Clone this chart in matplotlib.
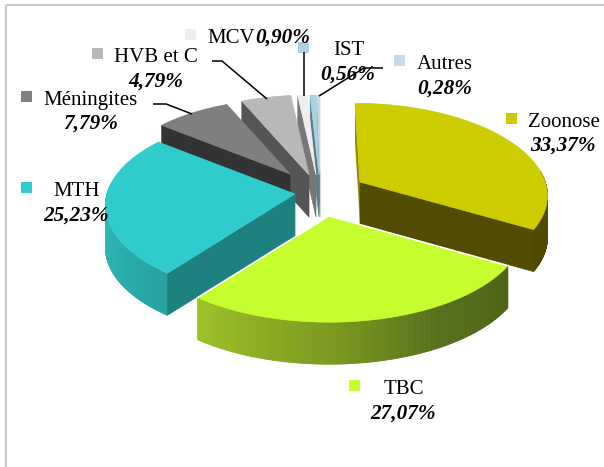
import numpy as np
import matplotlib
matplotlib.use("Agg")
import matplotlib.pyplot as plt
from matplotlib.colors import to_rgb
from matplotlib.patches import Polygon, Rectangle

# ---- data -------------------------------------------------------------
categories = ["Zoonose", "TBC", "MTH", "Méningites", "HVB et C", "MCV", "IST", "Autres"]
percent_values = [33.37, 27.07, 25.23, 7.79, 4.79, 0.90, 0.56, 0.28]
percent_labels = ["33,37%", "27,07%", "25,23%", "7,79%", "4,79%", "0,90%", "0,56%", "0,28%"]

# ---- style ------------------------------------------------------------
top_colors = ["#cccc00", "#c6fd2e", "#30cccc", "#7f7f7f", "#b8b8b8", "#eeeeee", "#a9d2e0", "#c3dde5"]
face_colors = ["#524c00", "#536a15", "#1f8080", "#333333", "#555555", "#777777", "#5a7f8a", "#6d8d96"]
marker_colors = ["#cccc00", "#c6fd2e", "#30cccc", "#7f7f7f", "#b8b8b8", "#eeeeee", "#a9d2e0", "#c3dde5"]
side_stops = {
    "Zoonose": [(90, "#4f4a00"), (125, "#4f4a00")],
    "TBC": [(120, "#4f6415"), (150, "#55701a"), (180, "#7d9a1f"), (218, "#9dc227")],
    "MTH": [(217, "#25a0a0"), (245, "#2cb0b0"), (275, "#2fb8b8")],
}
tips = [(360, 182), (329, 216), (295, 194), (290, 174), (309, 175), (316, 175), (319, 175), (320, 175)]
skews = [5, 0, 0, 0, 0, 0, 0, 0]
radius_scales = [0.985, 1.03, 1.0, 0.94, 1.0, 1.0, 1.0, 1.0]
A, B, PERSP, DEPTH = 188, 90, 0.127, 42

marker_boxes = [(506, 113), (349, 380), (21, 182), (21, 91), (92, 48), (185, 29), (298, 42), (394, 55)]
name_pos = [(528, 127), (384, 394), (53, 196), (43, 105), (114, 62), (207, 43), (333, 55), (417, 69)]
pct_pos = [(530, 151), (370, 419), (43, 221), (63, 129), (128, 87), (255, 43), (320, 80), (417, 94)]
leaders = [
    ([153, 166, 192], [104, 104, 114]),
    ([212, 222, 267], [61, 61, 99]),
    ([304, 304], [52, 96]),
    ([319, 364, 383], [96, 68, 68]),
]

SERIF = "Liberation Serif"
NAME_SIZE, PCT_SIZE = 15, 15.3

fig = plt.figure(figsize=(6.04, 4.67), dpi=100, facecolor="white")
ax = fig.add_axes([0, 0, 1, 1])
ax.set_xlim(0, 604)
ax.set_ylim(467, 0)
ax.axis("off")

# frame (left and top only are visible in the crop)
ax.add_patch(Rectangle((6, 5), 700, 600, fill=False, ec="#c8c8c8", lw=1.5, zorder=0))


def project(theta_deg, tip, skew, scale):
    t = np.radians(theta_deg)
    X, Y = np.sin(t), -np.cos(t)
    s = scale / (1 - PERSP * Y)
    return tip[0] + A * X * s + skew * Y, tip[1] + B * Y * s


def grad_color(theta, stops):
    angs = [p[0] for p in stops]
    rgb = np.array([to_rgb(p[1]) for p in stops])
    return tuple(np.interp(theta, angs, rgb[:, i]) for i in range(3))


edges = np.concatenate([[0], np.cumsum(percent_values)]) / sum(percent_values) * 360
order = [7, 6, 5, 4, 3, 0, 2, 1]  # back to front

for z, i in enumerate(order):
    name = categories[i]
    a0, a1 = edges[i], edges[i + 1]
    tip = tips[i]
    th = np.linspace(a0, a1, max(int(a1 - a0) * 2, 4))
    px, py = project(th, tip, skews[i], radius_scales[i])

    group = []
    # outer rim
    if name in side_stops:
        for j in range(len(th) - 1):
            mid = (th[j] + th[j + 1]) / 2
            if np.cos(np.radians(mid)) < 0.12:
                c = grad_color(mid, side_stops[name])
                group.append(Polygon(
                    [(px[j], py[j]), (px[j + 1], py[j + 1]),
                     (px[j + 1], py[j + 1] + DEPTH), (px[j], py[j] + DEPTH)],
                    fc=c, ec=c, lw=0.6))
    # radial cut faces
    if name == "Zoonose":
        group.append(Polygon([(tip[0], tip[1]), (px[0], py[0]), (px[0], py[0] + DEPTH - 2),
                              (tip[0], tip[1] + DEPTH - 2)], fc="#8f8c08", ec="none"))
        group.append(Polygon([(tip[0], tip[1]), (px[-1], py[-1]), (px[-1], py[-1] + DEPTH),
                              (tip[0], tip[1] + DEPTH)], fc=face_colors[i], ec=face_colors[i], lw=0.5))
    elif name != "TBC":
        group.append(Polygon([(tip[0], tip[1]), (px[0], py[0]), (px[0], py[0] + DEPTH),
                              (tip[0], tip[1] + DEPTH)], fc=face_colors[i], ec=face_colors[i], lw=0.5))
    for p in group:
        p.set_zorder(10 + z)
        ax.add_patch(p)
    # top face
    verts = [tip] + list(zip(px, py))
    ax.add_patch(Polygon(verts, closed=True, fc=top_colors[i], ec=top_colors[i], lw=0.5, zorder=10.5 + z))
    if name == "TBC":
        ax.plot([px[0], tip[0], px[-1]], [py[0], tip[1], py[-1]], color="white", lw=1.1, zorder=10.6 + z)

# legend-style labels
for i, name in enumerate(categories):
    mx, my = marker_boxes[i]
    ax.add_patch(Rectangle((mx, my), 11, 11, fc=marker_colors[i], ec="none", zorder=30))
    ax.text(name_pos[i][0], name_pos[i][1], name, family=SERIF, fontsize=NAME_SIZE,
            color="black", ha="left", va="baseline", zorder=31)
    ax.text(pct_pos[i][0], pct_pos[i][1], percent_labels[i], family=SERIF, fontsize=PCT_SIZE,
            style="italic", weight="bold", color="black", ha="left", va="baseline", zorder=31)

for lx, ly in leaders:
    ax.plot(lx, ly, color="black", lw=1.1, solid_capstyle="butt", zorder=32)

fig.savefig("out.png", dpi=100)
